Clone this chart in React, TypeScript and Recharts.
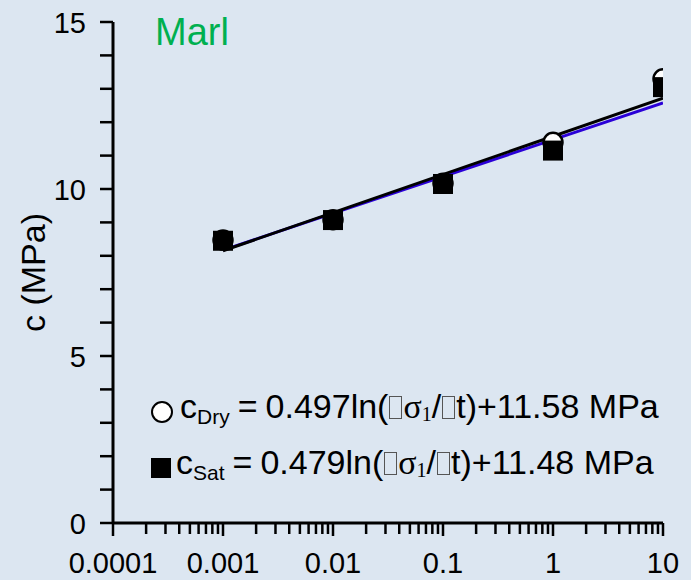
import React from 'react'
import { ScatterChart, Scatter, XAxis, YAxis } from 'recharts'

const stressRates = [0.001, 0.01, 0.1, 1, 10]
const cohesionDry = [8.47, 9.08, 10.17, 11.4, 13.3]
const cohesionSat = [8.45, 9.07, 10.15, 11.15, 13.05]

// fitted lines, end points read from the regression equations
const fitRates = [0.001, 10]
const fitDry = [8.15, 12.72]
const fitSat = [8.17, 12.58]

const xMajorTicks = [0.0001, 0.001, 0.01, 0.1, 1, 10]
const xTickLabels = ['0.0001', '0.001', '0.01', '0.1', '1', '10']
const yTicks = [0, 1, 2, 3, 4, 5, 6, 7, 8, 9, 10, 11, 12, 13, 14, 15]
const yMajorTicks = [0, 5, 10, 15]

const BG = '#dce6f1'
const FONT = '"Liberation Sans", Arial, sans-serif'

const xTicks: number[] = []
xMajorTicks.forEach((t, i) => {
  xTicks.push(t)
  if (i < xMajorTicks.length - 1) {
    for (let m = 2; m <= 9; m++) xTicks.push(+(t * m).toPrecision(3))
  }
})

const dryData = stressRates.map((x, i) => ({ x, y: cohesionDry[i] }))
const satData = stressRates.map((x, i) => ({ x, y: cohesionSat[i] }))
const dryFitData = fitRates.map((x, i) => ({ x, y: fitDry[i] }))
const satFitData = fitRates.map((x, i) => ({ x, y: fitSat[i] }))

function XTick(props: any) {
  const { x, y, payload } = props
  const idx = xMajorTicks.findIndex((t) => Math.abs(t - payload.value) / t < 1e-6)
  const major = idx >= 0
  return (
    <g>
      <line x1={x} x2={x} y1={y} y2={y + (major ? 13 : 11)} stroke="#000" strokeWidth={2.5} />
      {major && (
        <text x={x} y={y + 50} textAnchor="middle" fontSize={29} fontFamily={FONT} fill="#000">
          {xTickLabels[idx]}
        </text>
      )}
    </g>
  )
}

function YTick(props: any) {
  const { x, y, payload } = props
  const major = yMajorTicks.includes(payload.value)
  return (
    <g>
      <line x1={x - 13} x2={x} y1={y} y2={y} stroke="#000" strokeWidth={2.5} />
      {major && (
        <text x={x - 27} y={y + 11} textAnchor="end" fontSize={29} fontFamily={FONT} fill="#000">
          {payload.value}
        </text>
      )}
    </g>
  )
}

function Circle(props: any) {
  const { cx, cy } = props
  return <circle cx={cx} cy={cy} r={9.5} fill="#fff" stroke="#000" strokeWidth={2.5} />
}

function Square(props: any) {
  const { cx, cy } = props
  return <rect x={cx - 10} y={cy - 10} width={20} height={20} fill="#000" />
}

const noShape = () => <g />

const tofu: React.CSSProperties = {
  display: 'inline-block',
  width: 13,
  height: 23,
  border: '1px solid #555',
  boxSizing: 'border-box',
  verticalAlign: '-1px',
  margin: '0 1px',
}

function Equation({ sub, text }: { sub: string; text: string[] }) {
  return (
    <span style={{ fontFamily: FONT, fontSize: 34, color: '#000', whiteSpace: 'nowrap', lineHeight: '36px' }}>
      c<sub style={{ fontSize: 21, verticalAlign: '-6px' }}>{sub}</sub>
      <span style={{ margin: '0 8px' }}>=</span>
      {text[0]}ln(
      <span style={tofu} />
      <span style={{ fontFamily: '"Liberation Serif", serif' }}>
        σ<sub style={{ fontSize: 20, verticalAlign: '-3px' }}>1</sub>
      </span>
      /<span style={tofu} />t)+{text[1]} MPa
    </span>
  )
}

export default function App() {
  return (
    <div style={{ position: 'absolute', left: 0, top: 0, width: 691, height: 580, background: BG }}>
      <ScatterChart width={691} height={580} margin={{ top: 22, right: 28, bottom: 0, left: 0 }}>
        <XAxis
          dataKey="x"
          type="number"
          scale="log"
          domain={[0.0001, 10]}
          ticks={xTicks}
          interval={0}
          allowDataOverflow
          height={57}
          tickSize={0}
          tickMargin={0}
          tickLine={false}
          axisLine={{ stroke: '#000', strokeWidth: 3 }}
          tick={<XTick />}
        />
        <YAxis
          dataKey="y"
          type="number"
          domain={[0, 15]}
          ticks={yTicks}
          interval={0}
          width={113}
          tickSize={0}
          tickMargin={0}
          tickLine={false}
          axisLine={{ stroke: '#000', strokeWidth: 3 }}
          tick={<YTick />}
          label={{
            value: 'c (MPa)',
            angle: -90,
            position: 'insideLeft',
            offset: 33,
            style: { fontSize: 34, fontFamily: FONT, fill: '#000', textAnchor: 'middle' },
          }}
        />
        <Scatter data={satFitData} line={{ stroke: '#2a00d8', strokeWidth: 3 }} shape={noShape} isAnimationActive={false} />
        <Scatter data={dryFitData} line={{ stroke: '#000', strokeWidth: 3 }} shape={noShape} isAnimationActive={false} />
        <Scatter data={dryData} shape={<Circle />} isAnimationActive={false} />
        <Scatter data={satData} shape={<Square />} isAnimationActive={false} />
      </ScatterChart>
      <div style={{ position: 'absolute', left: 155, top: 11, fontFamily: FONT, fontSize: 38, color: '#00b050' }}>
        Marl
      </div>
      <div style={{ position: 'absolute', left: 151, top: 388, display: 'flex', alignItems: 'center' }}>
        <span style={{ width: 18, height: 18, borderRadius: '50%', border: '2px solid #000', background: '#fff', marginRight: 7 }} />
        <Equation sub="Dry" text={['0.497', '11.58']} />
      </div>
      <div style={{ position: 'absolute', left: 151, top: 444, display: 'flex', alignItems: 'center' }}>
        <span style={{ width: 20, height: 20, background: '#000', marginRight: 5 }} />
        <Equation sub="Sat" text={['0.479', '11.48']} />
      </div>
    </div>
  )
}
